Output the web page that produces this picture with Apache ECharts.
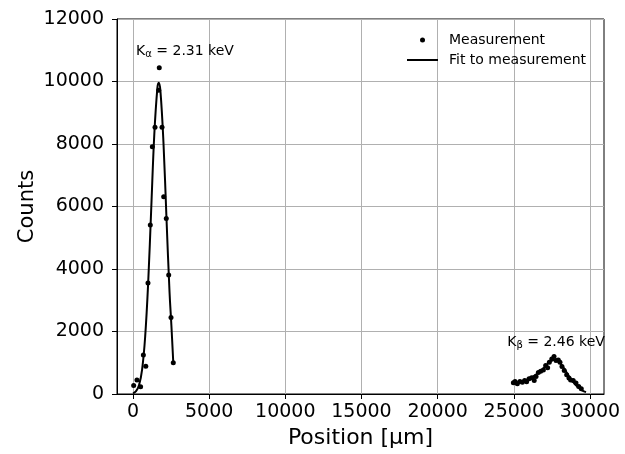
<!DOCTYPE html>
<html>
<head>
<meta charset="utf-8">
<script src="https://cdn.jsdelivr.net/npm/echarts@6/dist/echarts.min.js"></script>
<style>
  html, body { margin: 0; padding: 0; background: #fff; }
  #main { width: 625px; height: 454px; }
</style>
</head>
<body>
<div id="main"></div>
<script>
// 数据：位置 [μm] 与计数
var measAlpha = [
    [45, 270], [260, 450], [500, 230], [680, 1250], [840, 890],
    [985, 3550], [1135, 5410], [1270, 7910], [1445, 8540], [1690, 9720],
    [1725, 10440], [1905, 8540], [2015, 6310], [2185, 5620], [2345, 3810],
    [2495, 2450], [2645, 1000]
];
var measBeta = [
    [24970, 360], [25080, 400], [25230, 330], [25400, 400], [25560, 380],
    [25710, 435], [25840, 390], [26000, 490], [26170, 520], [26340, 435],
    [26460, 560], [26610, 690], [26760, 730], [26940, 770], [27090, 910],
    [27220, 840], [27330, 1020], [27490, 1120], [27640, 1200], [27770, 1070],
    [27920, 1090], [28030, 1020], [28160, 880], [28310, 750], [28470, 620],
    [28620, 510], [28730, 450], [28900, 430], [29080, 350], [29260, 240],
    [29430, 170]
];
var fitAlpha = [
    [0, 20], [200, 90], [400, 290], [600, 790], [800, 1840],
    [1000, 3600], [1200, 5970], [1400, 8320], [1600, 9790], [1690, 9960],
    [1800, 9700], [2000, 8050], [2200, 5600], [2400, 3250], [2520, 2200],
    [2645, 1000]
];
var fitBeta = [
    [24950, 330], [25500, 400], [26000, 490], [26500, 640], [27000, 850],
    [27300, 1000], [27600, 1090], [27800, 1080], [28000, 1010], [28300, 820],
    [28600, 580], [28900, 380], [29200, 220], [29500, 110], [29740, 60]
];
var xTicks = [0, 5000, 10000, 15000, 20000, 25000, 30000];
var notes = [
    { coord: [3414, 10950], text: '{k|K}{s|α}{k| = 2.31 keV}' },
    { coord: [27770, 1650], text: '{k|K}{s|β}{k| = 2.46 keV}' }
];

var myChart = echarts.init(document.getElementById('main'));
var font = 'DejaVu Sans';

option = {
    backgroundColor: '#fff',
    animation: false,
    textStyle: { fontFamily: font, color: '#000' },
    grid: {
        left: 117, right: 21, top: 19, bottom: 57,
        show: true, borderColor: '#000', borderWidth: 1
    },
    legend: [{
        data: ['Measurement'],
        orient: 'vertical',
        left: 420, top: 33, padding: 0,
        icon: 'circle',
        itemWidth: 5, itemHeight: 5,
        itemStyle: { color: '#000', opacity: 1 },
        formatter: '{a|{name}}',
        textStyle: {
            fontSize: 14, color: '#000', fontFamily: font,
            rich: { a: { fontSize: 14, color: '#000', fontFamily: font, padding: [0, 0, 0, 19] } }
        }
    }, {
        data: ['Fit to measurement'],
        orient: 'vertical',
        left: 407, top: 53, padding: 0,
        icon: 'rect',
        itemWidth: 31, itemHeight: 2,
        itemStyle: { color: '#000', opacity: 1 },
        formatter: '{a|{name}}',
        textStyle: {
            fontSize: 14, color: '#000', fontFamily: font,
            rich: { a: { fontSize: 14, color: '#000', fontFamily: font, padding: [0, 0, 0, 6] } }
        }
    }],
    xAxis: {
        type: 'value',
        min: -1050, max: 30920,
        name: 'Position [μm]',
        nameLocation: 'middle',
        nameGap: 33,
        nameMoveOverlap: false,
        nameTextStyle: { fontSize: 22, color: '#000', fontFamily: font },
        axisLine: { show: true, onZero: false, lineStyle: { color: '#000', width: 1 } },
        axisTick: { show: true, inside: false, length: 5, lineStyle: { color: '#000' }, customValues: xTicks },
        axisLabel: {
            fontSize: 19, color: '#000', margin: 9, customValues: xTicks, fontFamily: font,
            formatter: function (v) { return String(v); }
        },
        splitLine: { show: true, lineStyle: { color: '#b0b0b0', width: 1 } }
    },
    yAxis: {
        type: 'value',
        min: 0, max: 12000, interval: 2000,
        name: 'Counts',
        nameLocation: 'middle',
        nameGap: 79,
        nameMoveOverlap: false,
        nameTextStyle: { fontSize: 21, color: '#000', fontFamily: font },
        axisLine: { show: true, onZero: false, lineStyle: { color: '#000', width: 1 } },
        axisTick: { show: true, inside: false, length: 5, lineStyle: { color: '#000' } },
        axisLabel: {
            fontSize: 19, color: '#000', margin: 13, fontFamily: font,
            formatter: function (v) { return String(v); }
        },
        splitLine: { show: true, lineStyle: { color: '#b0b0b0', width: 1 } }
    },
    series: [{
        name: 'Measurement',
        type: 'scatter',
        symbolSize: 5,
        itemStyle: { color: '#000', opacity: 1 },
        data: measAlpha,
        markPoint: {
            symbol: 'circle',
            symbolSize: 0,
            label: {
                show: true,
                position: 'inside',
                formatter: function (p) { return p.data.text; },
                rich: {
                    k: { fontSize: 14, color: '#000', fontFamily: font },
                    s: { fontSize: 10, color: '#000', fontFamily: font, verticalAlign: 'bottom', padding: [6, 0, 0, 0] }
                }
            },
            data: notes.map(function (n) { return { coord: n.coord, text: n.text }; })
        }
    }, {
        name: 'Measurement',
        type: 'scatter',
        symbolSize: 5,
        itemStyle: { color: '#000', opacity: 1 },
        data: measBeta
    }, {
        name: 'Fit to measurement',
        type: 'line',
        symbol: 'none',
        smooth: 0.4,
        lineStyle: { color: '#000', width: 2 },
        itemStyle: { color: '#000' },
        data: fitAlpha
    }, {
        name: 'Fit to measurement',
        type: 'line',
        symbol: 'none',
        smooth: 0.4,
        lineStyle: { color: '#000', width: 2 },
        itemStyle: { color: '#000' },
        data: fitBeta
    }]
};
myChart.setOption(option);
</script>
</body>
</html>
